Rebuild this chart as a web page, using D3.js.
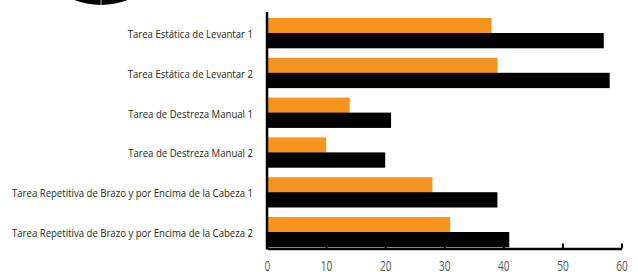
<!DOCTYPE html>
<html>
<head>
<meta charset="utf-8">
<script src="https://cdn.jsdelivr.net/npm/d3@7"></script>
<style>
  body { margin: 0; background: #fff; }
  svg { display: block; }
  .labels { font-family: "Open Sans", "Noto Sans", sans-serif; }
</style>
</head>
<body>
<svg class="barchart" width="638" height="272"></svg>
<script>
const categories = [
    "Tarea Estática de Levantar 1",
    "Tarea Estática de Levantar 2",
    "Tarea de Destreza Manual 1",
    "Tarea de Destreza Manual 2",
    "Tarea Repetitiva de Brazo y por Encima de la Cabeza 1",
    "Tarea Repetitiva de Brazo y por Encima de la Cabeza 2"
];
const seriesNames = ["naranja", "negro"];
const orangeValues = [38, 39, 14, 10, 28, 31];
const blackValues = [57, 58, 21, 20, 39, 41];
const xTicks = [0, 10, 20, 30, 40, 50, 60];

const colors = { naranja: "#f7941e", negro: "#000000" };

const rows = categories.map((c, i) => ({
    title: c,
    naranja: orangeValues[i],
    negro: blackValues[i]
}));

makeChart(rows);

// squeeze text horizontally to look like a condensed face
function condense(sel, factor) {
    sel.each(function() {
        const w = this.getComputedTextLength();
        d3.select(this)
            .attr('textLength', w * factor)
            .attr('lengthAdjust', 'spacingAndGlyphs');
    });
}

function makeChart(data) {
    const svg = d3.select('.barchart');

    const left = 267, right = 621.5;
    const top = 12, bottom = 248.5;

    // decorative circle cut off at the top
    svg.append('circle')
        .attr('cx', 101)
        .attr('cy', -68)
        .attr('r', 73)
        .attr('fill', '#000');
    svg.append('line')
        .attr('x1', 101).attr('x2', 101)
        .attr('y1', 0).attr('y2', 5)
        .attr('stroke', '#777')
        .attr('stroke-width', 1.5);

    const xScale = d3.scaleLinear()
        .domain([0, 60])
        .range([left, right]);

    const yScale = d3.scaleBand()
        .domain(categories)
        .range([18, 247])
        .paddingInner(0.246)
        .paddingOuter(0);

    const ySub = d3.scaleBand()
        .domain(seriesNames)
        .range([0, yScale.bandwidth()]);

    const groups = svg.append('g')
        .selectAll('g')
        .data(data)
        .join('g')
        .attr('transform', d => `translate(0, ${yScale(d.title)})`);

    groups.selectAll('rect')
        .data(d => seriesNames.map(k => ({ key: k, value: d[k] })))
        .join('rect')
        .attr('x', xScale(0))
        .attr('y', d => ySub(d.key))
        .attr('width', d => xScale(d.value) - xScale(0))
        .attr('height', ySub.bandwidth() + 0.3)
        .attr('fill', d => colors[d.key]);

    // x axis, ticks pointing up
    const xAxis = svg.append('g')
        .attr('transform', `translate(0, ${bottom})`)
        .call(d3.axisBottom(xScale).tickValues(xTicks).tickSizeInner(-5).tickSizeOuter(0).tickPadding(13));
    xAxis.select('.domain').attr('stroke', '#000').attr('stroke-width', 2.5);
    xAxis.selectAll('.tick line').attr('stroke', '#000').attr('stroke-width', 2);
    xAxis.selectAll('.tick text')
        .attr('class', 'labels')
        .attr('fill', '#555')
        .attr('font-size', 14)
        .attr('dy', '0.71em')
        .call(condense, 0.72);

    // y axis line
    svg.append('line')
        .attr('x1', left).attr('x2', left)
        .attr('y1', top).attr('y2', bottom + 1)
        .attr('stroke', '#000')
        .attr('stroke-width', 2.5);

    const labels = svg.append('g')
        .selectAll('text')
        .data(categories)
        .join('text')
        .attr('class', 'labels')
        .attr('x', 253)
        .attr('y', d => yScale(d) + yScale.bandwidth() / 2 + 2)
        .attr('text-anchor', 'end')
        .attr('dominant-baseline', 'middle')
        .attr('font-size', 11.5)
        .attr('fill', '#231f20')
        .text(d => d);

    const widest = d3.max(labels.nodes(), n => n.getComputedTextLength());
    labels.call(condense, 241 / widest);
}
</script>
</body>
</html>
